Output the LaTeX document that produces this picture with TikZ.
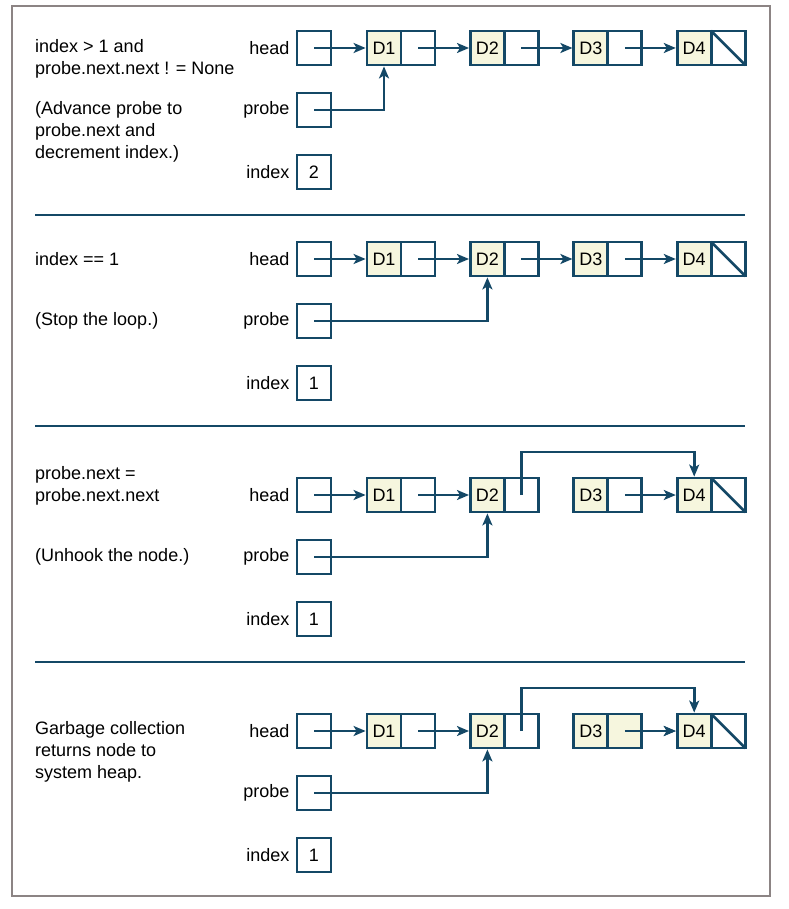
\documentclass[tikz,border=0pt]{standalone}
\usepackage{fontspec}
\setmainfont{Liberation Sans}
\usetikzlibrary{arrows.meta,positioning}
\definecolor{linkblue}{RGB}{20,72,102}
\definecolor{cellfill}{RGB}{246,246,222}
\definecolor{framegray}{RGB}{140,132,132}
\tikzset{
  cell size/.store in=\CellSize,
  node gap/.store in=\NodeGap,
  row gap/.store in=\RowGap,
  cell size=34,
  node gap=103.4,
  row gap=62,
  cell/.style={draw=linkblue, line width=2.8pt, minimum width=\CellSize pt,
    minimum height=\CellSize pt, inner sep=0pt},
  datacell/.style={cell, fill=cellfill},
  ptr/.style={draw=linkblue, line width=2.6pt, -{Stealth[length=12pt,width=10pt,inset=3pt]}},
  nonelink/.style={draw=linkblue, line width=2.6pt, shorten >=1.6pt, shorten <=1.6pt},
  lbl/.style={inner sep=1pt},
  note/.style={anchor=west, align=left, inner sep=0pt},
  rule/.style={draw=linkblue, line width=2pt},
  frame/.style={draw=framegray, line width=2.6pt}
}

\begin{document}
\begin{tikzpicture}[x=1pt, y=-1pt, line cap=butt, line join=miter,
  font=\fontsize{18}{22}\selectfont]

  % Page size
  \useasboundingbox (0,0) rectangle (788,909);
  \draw[frame] (12,6) rectangle (770,896);

  % One panel per step: head, probe, index and the list D1..D4
  \foreach \p/\y/\idx in {a/48/2, b/259/1, c/495/1, d/731/1} {
    \node[cell] (\p-head) at (314,\y) {};
    \node[cell] (\p-probe) at (314,\y+\RowGap) {};
    \node[cell] (\p-index) at (314,\y+2*\RowGap) {\idx};
    \node[lbl, left=5pt of \p-head] (\p-headlbl) {head};
    \node[lbl, left=5pt of \p-probe] (\p-probelbl) {probe};
    \node[lbl, left=5pt of \p-index] (\p-indexlbl) {index};
    \foreach \i in {1,...,4} {
      \node[datacell] (\p-d\i) at ({384+\NodeGap*(\i-1)},\y) {D\i};
      \node[cell] (\p-n\i) at ({384+\NodeGap*(\i-1)+\CellSize},\y) {};
    }
    % None in the last link
    \draw[nonelink] (\p-n4.north west) -- (\p-n4.south east);
    % Links kept in every step
    \draw[ptr] (\p-head.center) -- (\p-d1.west);
    \draw[ptr] (\p-n1.center) -- (\p-d2.west);
    \draw[ptr] (\p-n3.center) -- (\p-d4.west);
  }

  % Step 1
  \node[note] (a-cond) at (35,59) {index > 1 and\\probe.next.next ! = None};
  \node[note] (a-what) at (35,132) {(Advance probe to\\probe.next and\\decrement index.)};
  \draw[ptr] (a-n2.center) -- (a-d3.west);
  \draw[ptr] (a-probe.center) -| (a-d1.south);

  \draw[rule] (35,215) -- (745,215);

  % Step 2
  \node[note] (b-cond) at (35,259) {index == 1};
  \node[note] (b-what) at (35,321) {(Stop the loop.)};
  \draw[ptr] (b-n2.center) -- (b-d3.west);
  \draw[ptr] (b-probe.center) -| (b-d2.south);

  \draw[rule] (35,426) -- (745,426);

  % Step 3
  \node[note] (c-cond) at (35,486) {probe.next =\\probe.next.next};
  \node[note] (c-what) at (35,557) {(Unhook the node.)};
  \coordinate (c-hook) at ([yshift=43pt]c-n2.center);
  \draw[ptr] (c-n2.center) -- (c-hook) -| (c-d4.north);
  \draw[ptr] (c-probe.center) -| (c-d2.south);

  \draw[rule] (35,662) -- (745,662);

  % Step 4
  \node[note] (d-what) at (35,752) {Garbage collection\\returns node to\\system heap.};
  \node[datacell] (d-n3gone) at (d-n3) {};
  \draw[ptr] (d-n3gone.center) -- (d-d4.west);
  \coordinate (d-hook) at ([yshift=43pt]d-n2.center);
  \draw[ptr] (d-n2.center) -- (d-hook) -| (d-d4.north);
  \draw[ptr] (d-probe.center) -| (d-d2.south);

\end{tikzpicture}
\end{document}
